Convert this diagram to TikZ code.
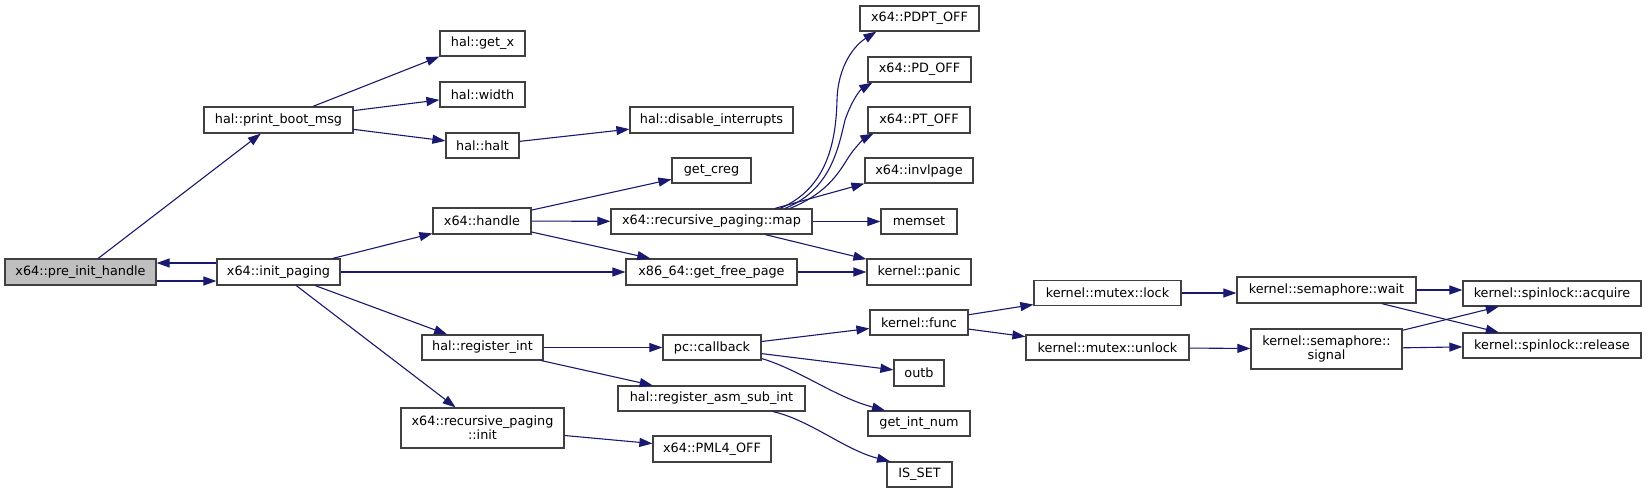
\documentclass[tikz,border=0pt]{standalone}
\usepackage{fontspec}
\setmainfont{DejaVu Sans}
\usetikzlibrary{arrows.meta,calc}
\definecolor{edgeblue}{HTML}{191970}
\definecolor{nodeborder}{HTML}{404040}
\definecolor{grayfill}{HTML}{BFBFBF}
\begin{document}
\begin{tikzpicture}[x=1pt,y=-1pt,
  box/.style={draw=nodeborder, line width=1.2pt, fill=white, inner sep=0pt,
    font=\fontsize{12.8}{14}\selectfont, align=center},
  graybox/.style={box, fill=grayfill},
  edge/.style={draw=edgeblue, line width=1.1pt, -{Triangle[length=13pt,width=9pt]}},
]
\useasboundingbox[fill=white] (0,0) rectangle (1647,493);

\node[graybox,minimum width=151pt,minimum height=26pt] (pre) at (80.5,272) {x64::pre\_init\_handle};
\node[box,minimum width=123pt,minimum height=26pt] (init) at (278.5,272) {x64::init\_paging};
\node[box,minimum width=149pt,minimum height=26pt] (pbm) at (278.5,120) {hal::print\_boot\_msg};
\node[box,minimum width=85pt,minimum height=25pt] (getx) at (482.5,43.5) {hal::get\_x};
\node[box,minimum width=85pt,minimum height=25pt] (width) at (482.5,94.5) {hal::width};
\node[box,minimum width=73pt,minimum height=25pt] (halt) at (482.5,145.5) {hal::halt};
\node[box,minimum width=98pt,minimum height=26pt] (handle) at (482,221) {x64::handle};
\node[box,minimum width=163pt,minimum height=26pt] (dis) at (711.5,120) {hal::disable\_interrupts};
\node[box,minimum width=79pt,minimum height=25pt] (creg) at (711.5,170.5) {get\_creg};
\node[box,minimum width=201pt,minimum height=25pt] (map) at (711.5,221.5) {x64::recursive\_paging::map};
\node[box,minimum width=171pt,minimum height=26pt] (gfp) at (711.5,272) {x86\_64::get\_free\_page};
\node[box,minimum width=119pt,minimum height=25pt] (pdpt) at (919.5,18.5) {x64::PDPT\_OFF};
\node[box,minimum width=103pt,minimum height=25pt] (pd) at (919.5,69.5) {x64::PD\_OFF};
\node[box,minimum width=102pt,minimum height=26pt] (pt) at (919,120) {x64::PT\_OFF};
\node[box,minimum width=108pt,minimum height=25pt] (invl) at (919,170.5) {x64::invlpage};
\node[box,minimum width=76pt,minimum height=25pt] (memset) at (919,221.5) {memset};
\node[box,minimum width=104pt,minimum height=26pt] (panic) at (919,272) {kernel::panic};
\node[box,minimum width=121pt,minimum height=25pt] (regint) at (482.5,347.5) {hal::register\_int};
\node[box,minimum width=163pt,minimum height=40pt] (rpinit) at (482.5,428) {x64::recursive\_paging\\::init};
\node[box,minimum width=98pt,minimum height=25pt] (cb) at (712,347.5) {pc::callback};
\node[box,minimum width=187pt,minimum height=25pt] (asm) at (711.5,398.5) {hal::register\_asm\_sub\_int};
\node[box,minimum width=118pt,minimum height=26pt] (pml4) at (712,449) {x64::PML4\_OFF};
\node[box,minimum width=98pt,minimum height=25pt] (func) at (919,322.5) {kernel::func};
\node[box,minimum width=50pt,minimum height=26pt] (outb) at (919,373) {outb};
\node[box,minimum width=102pt,minimum height=25pt] (gin) at (919,423.5) {get\_int\_num};
\node[box,minimum width=65pt,minimum height=25pt] (isset) at (919.5,474.5) {IS\_SET};
\node[box,minimum width=147pt,minimum height=25pt] (lock) at (1107.5,293) {kernel::mutex::lock};
\node[box,minimum width=163pt,minimum height=25pt] (unlock) at (1107.5,347.5) {kernel::mutex::unlock};
\node[box,minimum width=179pt,minimum height=26pt] (wait) at (1326.5,290) {kernel::semaphore::wait};
\node[box,minimum width=151pt,minimum height=40pt] (signal) at (1326.5,349) {kernel::semaphore::\\signal};
\node[box,minimum width=178pt,minimum height=25pt] (acq) at (1552,293.5) {kernel::spinlock::acquire};
\node[box,minimum width=178pt,minimum height=25pt] (rel) at (1552,345.5) {kernel::spinlock::release};

\draw[edge] (pre) -- (pbm);
\draw[edge] ([yshift=-9pt]pre.east) -- ([yshift=-9pt]init.west);
\draw[edge] ([yshift=9pt]init.west) -- ([yshift=9pt]pre.east);
\draw[edge] (pbm) -- (getx.south west);
\draw[edge] (pbm) -- (width);
\draw[edge] (pbm) -- (halt);
\draw[edge] (halt) -- (dis);
\draw[edge] (init) -- (handle);
\draw[edge] (init) -- (gfp);
\draw[edge] (init) -- (regint);
\draw[edge] (init) -- (rpinit);
\draw[edge] (handle) -- (creg);
\draw[edge] (handle) -- (map);
\draw[edge] (handle) -- (gfp);
\draw[edge] ([xshift=68.5pt]map.north) .. controls (828,188) and (836,140) .. (837,100)
  .. controls (838,65) and (855,45) .. ([xshift=17pt]pdpt.south west);
\draw[edge] ([xshift=73.5pt]map.north) .. controls (830,190) and (838,150) .. (845,120)
  .. controls (852,100) and (860,90) .. ([xshift=5pt]pd.south west);
\draw[edge] ([xshift=78.5pt]map.north) .. controls (830,192) and (840,170) .. (850,155)
  .. controls (857,145) and (865,138) .. ([xshift=6pt]pt.south west);
\draw[edge] ([xshift=63.5pt]map.north) -- (invl.south west);
\draw[edge] (map) -- (memset);
\draw[edge] (map) -- (panic);
\draw[edge] (gfp) -- (panic);
\draw[edge] (regint) -- (cb);
\draw[edge] (regint) -- (asm);
\draw[edge] (rpinit) -- (pml4);
\draw[edge] (cb) -- (func);
\draw[edge] (cb) -- (outb);
\draw[edge] ([yshift=-11pt]cb.east) .. controls (800,370) and (835,397) .. ([xshift=-34pt]gin.north);
\draw[edge] ([xshift=61.5pt]asm.south) .. controls (810,420) and (845,450) .. ([xshift=-29.5pt]isset.north);
\draw[edge] (func) -- (lock);
\draw[edge] (func) -- (unlock);
\draw[edge] (lock) -- (wait.west |- lock.east);
\draw[edge] (unlock) -- (signal);
\draw[edge] (wait.east) -- (acq.west |- wait.east);
\draw[edge] (wait) -- (rel);
\draw[edge] (signal) -- (acq);
\draw[edge] (signal) -- (rel);
\end{tikzpicture}
\end{document}
